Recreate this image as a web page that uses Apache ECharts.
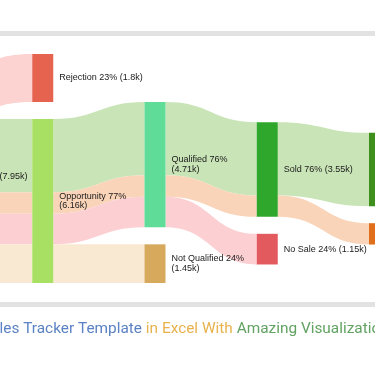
<!DOCTYPE html>
<html>
<head>
<meta charset="utf-8">
<script src="https://cdn.jsdelivr.net/npm/echarts@6/dist/echarts.min.js"></script>
<style>
html,body{margin:0;padding:0;background:#fff;}
#chart{width:375px;height:366px;}
</style>
</head>
<body>
<div id="chart"></div>
<script>
// ---- data ----
const nodeNames = ['Leads', 'Rejection', 'Opportunity', 'Qualified', 'Not Qualified', 'Sold', 'No Sale', 'Won', 'Lost'];
const nodeLabels = ['Leads 100% (7.95k)', 'Rejection 23% (1.8k)', 'Opportunity 77%\n(6.16k)', 'Qualified 76%\n(4.71k)', 'Not Qualified 24%\n(1.45k)', 'Sold 76% (3.55k)', 'No Sale 24% (1.15k)', 'Won 77% (2.75k)', 'Lost 23% (0.8k)'];
const nodeColors = ['#5b8ee0', '#e5634f', '#a8e063', '#5edc98', '#d6a95c', '#2fa72c', '#e25a5e', '#3f8f1c', '#e06f1c'];

const linkSources = ['Leads', 'Leads', 'Leads', 'Leads', 'Leads', 'Opportunity', 'Opportunity', 'Opportunity', 'Opportunity', 'Qualified', 'Qualified', 'Qualified', 'Sold', 'Sold'];
const linkTargets = ['Rejection', 'Opportunity', 'Opportunity', 'Opportunity', 'Opportunity', 'Qualified', 'Qualified', 'Qualified', 'Not Qualified', 'Sold', 'Sold', 'No Sale', 'Won', 'Lost'];
const linkValues = [1.8, 2.75, 0.8, 1.15, 1.45, 2.75, 0.8, 1.15, 1.45, 2.75, 0.8, 1.15, 2.75, 0.8];
const linkColors = ['#fcd3d0', '#c9e4b7', '#f9d4b9', '#fcd0d3', '#fae9d2', '#c9e4b7', '#f9d4b9', '#fcd0d3', '#fae9d2', '#c9e4b7', '#f9d4b9', '#fcd0d3', '#c9e4b7', '#f9d4b9'];

const footerParts = ['Sales Tracker Template ', 'in Excel With ', 'Amazing Visualization'];
const footerColors = ['#5b82c4', '#e8b24c', '#62a262'];

// ---- chart ----
const chart = echarts.init(document.getElementById('chart'), null, {renderer: 'canvas'});

function makeNodes(localYs) {
  return nodeNames.map((n, i) => {
    const d = {
      name: n,
      itemStyle: {color: nodeColors[i], borderWidth: 0},
      label: {formatter: nodeLabels[i]}
    };
    if (localYs && localYs[i] != null) d.localY = localYs[i];
    return d;
  });
}
const links = linkSources.map((s, i) => ({
  source: s, target: linkTargets[i], value: linkValues[i],
  lineStyle: {color: linkColors[i], opacity: 1}
}));

function makeOption(iterations, nodes) {
  return {
    backgroundColor: '#ffffff',
    animation: false,
    graphic: [
      {type: 'rect', left: 0, top: 31, shape: {width: 375, height: 5}, style: {fill: '#e2e2e2'}, silent: true},
      {type: 'rect', left: 0, top: 302, shape: {width: 375, height: 5}, style: {fill: '#e2e2e2'}, silent: true},
      {type: 'text', x: -18, y: 322, silent: true,
        style: {
          text: footerParts.map((t, i) => '{p' + i + '|' + t + '}').join(''),
          rich: {
            p0: {fill: footerColors[0], fontSize: 15.4, fontFamily: 'Roboto'},
            p1: {fill: footerColors[1], fontSize: 15.4, fontFamily: 'Roboto'},
            p2: {fill: footerColors[2], fontSize: 15.4, fontFamily: 'Roboto'}
          }
        }
      }
    ],
    series: [{
      type: 'sankey',
      left: -80,
      right: -15,
      top: 54,
      bottom: 83,
      nodeWidth: 21,
      nodeGap: 17,
      nodeAlign: 'left',
      layoutIterations: iterations,
      draggable: false,
      emphasis: {disabled: true},
      data: nodes,
      links: links,
      label: {
        show: true,
        position: 'right',
        distance: 6,
        color: '#1a1a1a',
        fontFamily: 'Arial, Liberation Sans',
        fontSize: 9,
        lineHeight: 9.5
      },
      lineStyle: {curveness: 0.5, opacity: 1}
    }]
  };
}

// Pass 1: relaxed library layout.
chart.setOption(makeOption(32, makeNodes(null)), true);
let localYs = null;
try {
  const sm = chart.getModel().getSeriesByIndex(0);
  const graph = sm.getGraph();
  const H = sm.layoutInfo.height;
  const cols = {};
  graph.nodes.forEach(n => {
    const l = n.getLayout();
    (cols[l.depth] = cols[l.depth] || []).push({idx: n.dataIndex, y: l.y});
  });
  localYs = new Array(nodeNames.length).fill(null);
  Object.keys(cols).forEach(k => {
    const list = cols[k];
    // keep the relaxed positions only where the relaxation kept the data order
    const sorted = list.slice().sort((a, b) => a.y - b.y);
    const sameOrder = sorted.every((e, i) => e.idx === list[i].idx);
    if (sameOrder) list.forEach(e => { localYs[e.idx] = e.y / H; });
  });
} catch (e) { localYs = null; }

// Pass 2: stacked layout (data order) where the relaxation reordered nodes.
chart.setOption(makeOption(0, makeNodes(localYs)), true);
</script>
</body>
</html>
